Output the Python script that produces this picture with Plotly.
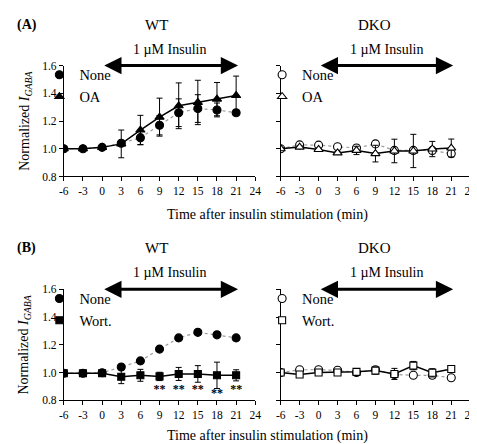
import plotly.graph_objects as go

# ---- data ----
time = [-6, -3, 0, 3, 6, 9, 12, 15, 18, 21]
xticks = [-6, -3, 0, 3, 6, 9, 12, 15, 18, 21, 24]
xtick_labels = ["-6", "-3", "0", "3", "6", "9", "12", "15", "18", "21", "24"]
yticks = [0.8, 1.0, 1.2, 1.4, 1.6]

a_wt_none = [1.00, 1.00, 1.01, 1.04, 1.08, 1.17, 1.26, 1.29, 1.28, 1.26]
a_wt_none_err = [0.01, 0.01, 0.01, 0.02, 0.05, 0.07, 0.10, 0.10, 0.05, 0.02]
a_wt_oa = [1.00, 1.00, 1.01, 1.035, 1.135, 1.228, 1.31, 1.334, 1.358, 1.384]
a_wt_oa_err = [0.01, 0.01, 0.01, 0.10, 0.106, 0.137, 0.165, 0.16, 0.12, 0.14]

a_dko_none = [1.00, 1.028, 1.026, 1.014, 1.005, 1.035, 0.988, 0.988, 0.988, 0.965]
a_dko_none_err = [0.01, 0.01, 0.01, 0.01, 0.02, 0.02, 0.02, 0.02, 0.02, 0.02]
a_dko_oa = [1.00, 1.012, 0.995, 0.97, 0.988, 0.965, 0.984, 0.984, 0.998, 1.005]
a_dko_oa_err = [0.01, 0.01, 0.01, 0.01, 0.03, 0.06, 0.085, 0.12, 0.055, 0.065]

b_wt_none = [0.995, 0.995, 0.998, 1.04, 1.084, 1.169, 1.25, 1.29, 1.272, 1.25]
b_wt_none_err = [0.005, 0.005, 0.005, 0.01, 0.01, 0.01, 0.01, 0.01, 0.01, 0.01]
b_wt_wort = [0.995, 0.995, 0.995, 0.97, 0.98, 0.972, 0.99, 0.99, 0.98, 0.98]
b_wt_wort_err = [0.01, 0.01, 0.01, 0.05, 0.043, 0.03, 0.047, 0.06, 0.095, 0.04]
sig_x = [9, 12, 15, 18, 21]
sig_y = [0.872, 0.872, 0.872, 0.842, 0.872]

b_dko_none = [1.00, 1.02, 1.02, 1.016, 1.00, 1.02, 0.986, 0.98, 0.98, 0.962]
b_dko_none_err = [0.01, 0.01, 0.01, 0.01, 0.01, 0.01, 0.01, 0.01, 0.02, 0.01]
b_dko_wort = [1.00, 0.986, 1.00, 1.00, 1.005, 1.014, 0.99, 1.05, 0.998, 1.026]
b_dko_wort_err = [0.01, 0.01, 0.01, 0.01, 0.01, 0.025, 0.04, 0.03, 0.03, 0.01]

# insulin application period (arrow), in minutes
insulin_start = 0.1
insulin_end = 21.3

FONT = "Liberation Serif, Times New Roman, serif"
W, H = 477, 444

fig = go.Figure()

def px_x(p):
    return p / W

def px_y(p):
    return 1 - p / H

panels = {
    "aw": ("x", "y", (52, 248), (53, 167)),
    "ad": ("x2", "y2", (274, 468), (53, 167)),
    "bw": ("x3", "y3", (52, 248), (283, 397)),
    "bd": ("x4", "y4", (274, 468), (283, 397)),
}

def add_series(panel, y, err, symbol, filled, solid, name, legend):
    xa, ya, _, _ = panels[panel]
    if solid:
        line = dict(color="black", width=1.5)
    else:
        line = dict(color="#9a9a9a", width=1.2, dash="dot")
    msize = 8 if symbol != "square" else 7
    fig.add_trace(go.Scatter(
        x=time, y=y, mode="lines+markers", xaxis=xa, yaxis=ya,
        line=line,
        marker=dict(symbol=symbol, size=msize,
                    color="black" if filled else "white",
                    line=dict(color="black", width=1.1)),
        error_y=dict(type="data", array=err, color="black", thickness=1, width=3),
        showlegend=False,
    ))
    fig.add_trace(go.Scatter(
        x=[None], y=[None], mode="markers", name=name, legend=legend,
        xaxis=xa, yaxis=ya,
        marker=dict(symbol=symbol, size=msize,
                    color="black" if filled else "white",
                    line=dict(color="black", width=1.1)),
    ))

add_series("aw", a_wt_none, a_wt_none_err, "circle", True, False, "None", "legend")
add_series("aw", a_wt_oa, a_wt_oa_err, "triangle-up", True, True, "OA", "legend")
add_series("ad", a_dko_none, a_dko_none_err, "circle", False, False, "None", "legend2")
add_series("ad", a_dko_oa, a_dko_oa_err, "triangle-up", False, True, "OA", "legend2")
add_series("bw", b_wt_none, b_wt_none_err, "circle", True, False, "None", "legend3")
add_series("bw", b_wt_wort, b_wt_wort_err, "square", True, True, "Wort.", "legend3")
add_series("bd", b_dko_none, b_dko_none_err, "circle", False, False, "None", "legend4")
add_series("bd", b_dko_wort, b_dko_wort_err, "square", False, True, "Wort.", "legend4")

fig.add_trace(go.Scatter(
    x=sig_x, y=sig_y, mode="text", text=["<b>**</b>"] * len(sig_x), xaxis="x3", yaxis="y3",
    textfont=dict(family=FONT, size=12, color="black"), showlegend=False,
))

layout = dict(
    width=W, height=H, margin=dict(l=0, r=0, t=0, b=0),
    paper_bgcolor="white", plot_bgcolor="white",
    font=dict(family=FONT, size=11, color="black"),
)
for key, (xa, ya, (x0, x1), (y0, y1)) in panels.items():
    xk = "xaxis" + xa[1:]
    yk = "yaxis" + ya[1:]
    layout[xk] = dict(
        domain=[px_x(x0), px_x(x1)], range=[-6, 24], tickvals=xticks,
        ticktext=xtick_labels,
        showline=True, linecolor="black", linewidth=1, ticks="outside",
        ticklen=4, tickcolor="black", showgrid=False, zeroline=False,
        anchor=ya, tickfont=dict(family=FONT, size=11.5),
    )
    layout[yk] = dict(
        domain=[px_y(y1), px_y(y0)], range=[0.8, 1.6], tickvals=yticks,
        tickformat=".1f", showline=True, linecolor="black", linewidth=1,
        ticks="outside", ticklen=4, tickcolor="black", showgrid=False,
        zeroline=False, anchor=xa, showticklabels=key in ("aw", "bw"),
        tickfont=dict(family=FONT, size=11.5),
    )

def legend_at(xp, yp):
    return dict(x=px_x(xp), y=px_y(yp), xanchor="left", yanchor="top",
                bgcolor="rgba(0,0,0,0)", font=dict(family=FONT, size=14.5),
                tracegroupgap=0)

layout["legend"] = legend_at(27, 46)
layout["legend2"] = legend_at(255, 46)
layout["legend3"] = legend_at(27, 276)
layout["legend4"] = legend_at(255, 276)
fig.update_layout(**layout)

ann = []
def text(xp, yp, s, size=14, **kw):
    d = dict(x=px_x(xp), y=px_y(yp), xref="paper", yref="paper", text=s,
             showarrow=False, font=dict(family=FONT, size=size, color="black"),
             xanchor="center", yanchor="middle")
    d.update(kw)
    ann.append(d)

text(2, 11, "<b>(A)</b>", 14, xanchor="left")
text(2, 241, "<b>(B)</b>", 14, xanchor="left")
text(147, 11, "WT", 15)
text(370, 11, "DKO", 15)
text(147, 241, "WT", 15)
text(370, 241, "DKO", 15)
for xp in (160, 382):
    text(xp, 36, "1 µM Insulin", 14)
    text(xp, 266, "1 µM Insulin", 14)
text(261, 207, "Time after insulin stimulation (min)", 14)
text(261, 434, "Time after insulin stimulation (min)", 14)
for yc in (110, 340):
    text(12, yc, "Normalized <i>I</i><sub><i>GABA</i></sub>", 14, textangle=-90)

# double-headed arrows (insulin application period)
for xa, ya in (("x", "y"), ("x2", "y2"), ("x3", "y3"), ("x4", "y4")):
    ann.append(dict(x=insulin_end, y=1.6, ax=insulin_start, ay=1.6, xref=xa, yref=ya,
                    axref=xa, ayref=ya, showarrow=True, arrowhead=2,
                    startarrowhead=2, arrowside="end+start", arrowsize=1.15,
                    startarrowsize=1.15, arrowwidth=3, arrowcolor="black", text=""))
fig.update_layout(annotations=ann)

fig.write_html("out.html")
